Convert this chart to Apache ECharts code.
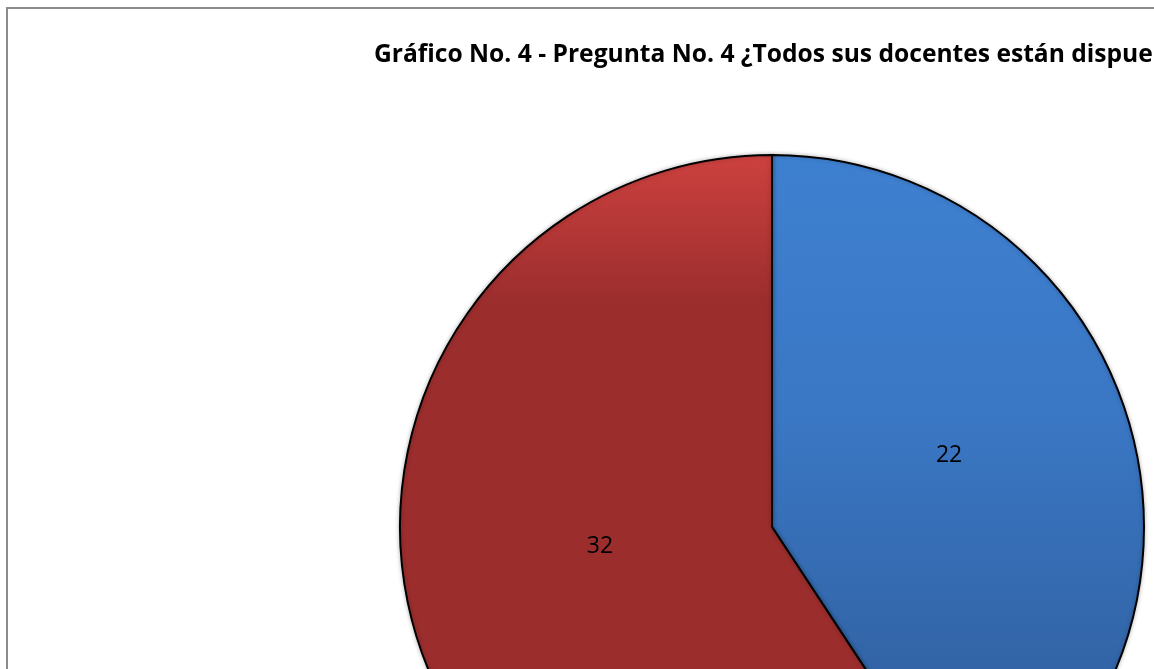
<!DOCTYPE html>
<html>
<head>
<meta charset="utf-8">
<title>Gráfico No. 4</title>
<script src="https://cdn.jsdelivr.net/npm/echarts@6/dist/echarts.min.js"></script>
<style>
  html, body { margin: 0; padding: 0; background: #fff; }
  #main { width: 1154px; height: 669px; }
</style>
</head>
<body>
<div id="main"></div>
<script>
// datos
var titulo = "Gráfico No. 4 - Pregunta No. 4 ¿Todos sus docentes están dispue";
var categorias = ["Sí", "No"];
var valores = [22, 32];

// colores (degradado vertical como en Excel)
var colores = [
  [[0, "#3e80d0"], [0.35, "#3a77c4"], [0.7, "#3264a6"], [1, "#2e5b97"]],
  [[0, "#cc413f"], [0.2, "#9b2d2d"], [1, "#9b2d2d"]]
];
// ajuste de posicion de etiquetas
var desplazamientos = [[-4, -17], [9, -35]];

var myChart = echarts.init(document.getElementById("main"));

var datos = [];
for (var i = 0; i < valores.length; i++) {
  var stops = colores[i].map(function (s) {
    return { offset: s[0], color: s[1] };
  });
  datos.push({
    name: categorias[i],
    value: valores[i],
    itemStyle: {
      color: new echarts.graphic.LinearGradient(0, 155, 0, 899, stops, true)
    },
    label: { offset: desplazamientos[i] }
  });
}

var option = {
  animation: false,
  backgroundColor: "#fff",
  title: {
    text: titulo,
    left: 369,
    top: 37,
    textStyle: {
      color: "#000",
      fontSize: 24.6,
      fontWeight: "bold",
      fontFamily: "Open Sans"
    }
  },
  graphic: [
    {
      type: "rect",
      z: -1,
      shape: { x: 7, y: 8, width: 1300, height: 900 },
      style: { fill: "none", stroke: "#8c8c8c", lineWidth: 2 }
    }
  ],
  series: [
    {
      name: "Pregunta 4",
      type: "pie",
      center: [772, 527],
      radius: 372,
      startAngle: 90,
      clockwise: true,
      silent: true,
      data: datos,
      label: {
        show: true,
        position: "inside",
        formatter: "{c}",
        color: "#000",
        fontSize: 23,
        fontFamily: "Open Sans"
      },
      labelLine: { show: false },
      itemStyle: {
        borderColor: "#000",
        borderWidth: 2,
        shadowBlur: 4,
        shadowColor: "rgba(0,0,0,0.25)"
      }
    }
  ]
};

myChart.setOption(option);
</script>
</body>
</html>
